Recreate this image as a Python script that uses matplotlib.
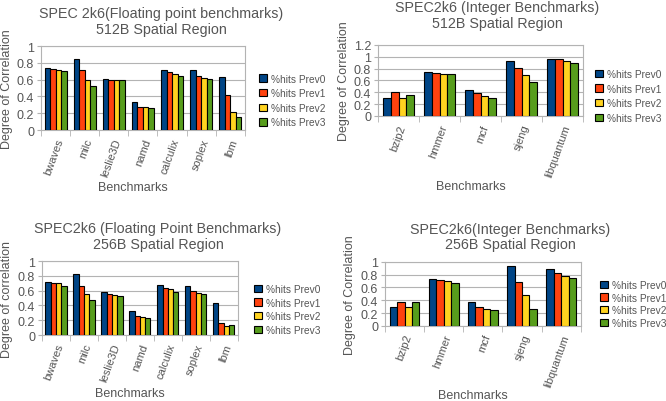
import matplotlib.pyplot as plt
import numpy as np
from matplotlib.patches import Patch

plt.rcParams['font.family'] = ['Liberation Sans', 'DejaVu Sans']

series_names = ["%hits Prev0", "%hits Prev1", "%hits Prev2", "%hits Prev3"]
colors = ["#004586", "#ff420e", "#ffd320", "#579d1c"]

fp_bench = ["bwaves", "milc", "leslie3D", "namd", "calculix", "soplex", "lbm"]
int_bench = ["bzip2", "hmmer", "mcf", "sjeng", "libquantum"]

fp512_prev0 = [0.74, 0.85, 0.61, 0.33, 0.72, 0.72, 0.63]
fp512_prev1 = [0.73, 0.72, 0.60, 0.28, 0.69, 0.64, 0.42]
fp512_prev2 = [0.72, 0.60, 0.59, 0.27, 0.67, 0.62, 0.22]
fp512_prev3 = [0.70, 0.53, 0.59, 0.26, 0.64, 0.61, 0.15]

int512_prev0 = [0.30, 0.75, 0.44, 0.92, 0.96]
int512_prev1 = [0.40, 0.73, 0.38, 0.81, 0.96]
int512_prev2 = [0.31, 0.71, 0.33, 0.69, 0.92]
int512_prev3 = [0.36, 0.70, 0.31, 0.58, 0.90]

fp256_prev0 = [0.72, 0.82, 0.58, 0.32, 0.68, 0.67, 0.44]
fp256_prev1 = [0.71, 0.67, 0.56, 0.26, 0.63, 0.60, 0.16]
fp256_prev2 = [0.70, 0.56, 0.54, 0.25, 0.62, 0.57, 0.12]
fp256_prev3 = [0.66, 0.48, 0.53, 0.23, 0.58, 0.55, 0.13]

int256_prev0 = [0.29, 0.73, 0.37, 0.93, 0.89]
int256_prev1 = [0.38, 0.71, 0.30, 0.69, 0.83]
int256_prev2 = [0.30, 0.70, 0.26, 0.49, 0.78]
int256_prev3 = [0.37, 0.67, 0.24, 0.26, 0.75]

GRAY = "#555555"
GRID = "#b3b3b3"
W, H = 666.0, 402.0


def draw_panel(fig, rect, title, cats, series, ymax, ystep, ylabel,
               title_xy, xlabel_y, legend_xy, legend_sp):
    ax = fig.add_axes(rect)
    x = np.arange(len(cats))
    w = 0.19
    for i, vals in enumerate(series):
        ax.bar(x + (i - 1.5) * w, vals, w, color=colors[i],
               edgecolor="black", linewidth=0.8, zorder=3)
    ax.set_xlim(-0.5, len(cats) - 0.5)
    ax.set_ylim(0, ymax)
    yt = np.round(np.arange(0, ymax + 1e-9, ystep), 2)
    ax.set_yticks(yt)
    ax.set_yticklabels(["%g" % v for v in yt], color=GRAY, fontsize=9)
    ax.yaxis.grid(True, color=GRID, linewidth=0.8, zorder=0)
    ax.set_xticks(x)
    ax.set_xticklabels(cats, rotation=70, ha="right", rotation_mode="anchor",
                       color=GRAY, fontsize=8)
    ax.tick_params(axis="x", length=0, pad=5)
    ax.tick_params(axis="y", length=3, color=GRID, pad=2)
    ax.set_xticks(np.arange(-0.5, len(cats)), minor=True)
    ax.tick_params(axis="x", which="minor", length=4, color=GRID)
    for s in ax.spines.values():
        s.set_color(GRID)
    ax.set_ylabel(ylabel, color=GRAY, fontsize=9, labelpad=3)
    fig.text(title_xy[0] / W, 1 - title_xy[1] / H, title, ha="center",
             va="center", color=GRAY, fontsize=10.3, linespacing=1.15)
    cx = rect[0] + rect[2] / 2 - 10 / W
    fig.text(cx, xlabel_y, "Benchmarks", ha="center", va="center",
             color=GRAY, fontsize=9)
    handles = [Patch(facecolor=c, edgecolor="black", linewidth=0.8) for c in colors]
    fig.legend(handles, series_names, loc="center left",
               bbox_to_anchor=(legend_xy[0] / W, 1 - legend_xy[1] / H),
               frameon=False, fontsize=7.3, labelcolor=GRAY,
               handlelength=0.75, handleheight=0.75, handletextpad=0.4,
               labelspacing=legend_sp, borderpad=0)
    return ax


fig = plt.figure(figsize=(6.66, 4.02), dpi=100)

draw_panel(fig, [0.0616, 0.674, 0.306, 0.209],
           "SPEC 2k6(Floating point benchmarks)\n512B Spatial Region",
           fp_bench, [fp512_prev0, fp512_prev1, fp512_prev2, fp512_prev3],
           1.0, 0.2, "Degree of Correlation", (161, 22), 0.532,
           (254, 101.5), 0.45)

draw_panel(fig, [0.5676, 0.709, 0.308, 0.177],
           "SPEC2k6 (Integer Benchmarks)\n512B Spatial Region",
           int_bench, [int512_prev0, int512_prev1, int512_prev2, int512_prev3],
           1.2, 0.2, "Degree of Correlation", (497, 16), 0.535,
           (590, 97), 0.45)

draw_panel(fig, [0.063, 0.164, 0.294, 0.184],
           "SPEC2k6 (Floating Point Benchmarks)\n256B Spatial Region",
           fp_bench, [fp256_prev0, fp256_prev1, fp256_prev2, fp256_prev3],
           1.0, 0.2, "Degree of correlation", (158, 237), 0.02,
           (249, 310.5), 0.35)

draw_panel(fig, [0.578, 0.187, 0.294, 0.159],
           "SPEC2k6(Integer Benchmarks)\n256B Spatial Region",
           int_bench, [int256_prev0, int256_prev1, int256_prev2, int256_prev3],
           1.0, 0.2, "Degree of Correlation", (510, 237.5), 0.015,
           (595, 305), 0.25)

fig.savefig("out.png", dpi=100)
